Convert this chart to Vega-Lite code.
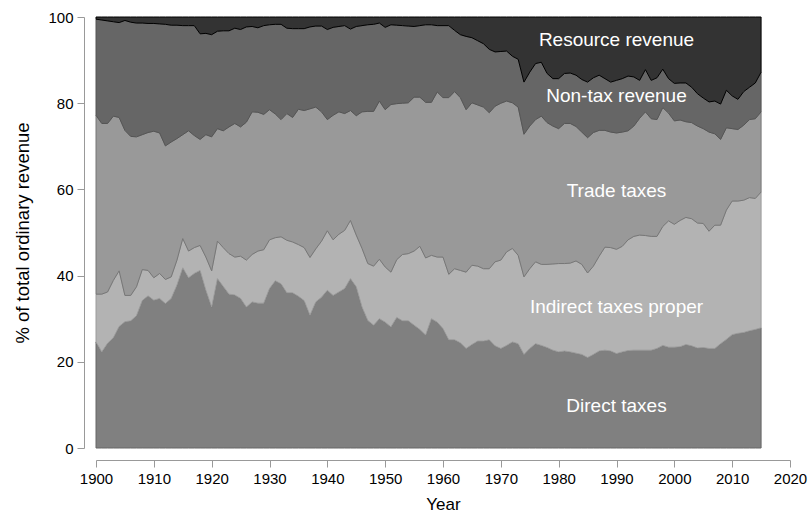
{
  "$schema": "https://vega.github.io/schema/vega-lite/v6.json",
  "width": 694,
  "height": 431,
  "autosize": {"type": "none"},
  "padding": {"left": 96, "top": 17, "right": 18, "bottom": 64},
  "config": {
    "font": "Liberation Sans",
    "view": {"stroke": null},
    "axis": {
      "domainColor": "#999999",
      "tickColor": "#999999",
      "labelColor": "#000000",
      "titleColor": "#000000",
      "labelFontSize": 15,
      "titleFontSize": 17,
      "titleFontWeight": "normal",
      "grid": false,
      "tickSize": 7,
      "offset": 12,
      "labelPadding": 4,
      "labelFlush": false,
      "labelOverlap": false
    }
  },
  "datasets": {
    "revenue": [
      {"year":1900,"direct":24.6,"indirect":11.1,"trade":41.5,"nontax":22.3,"resource":0.5},
      {"year":1901,"direct":22.3,"indirect":13.4,"trade":39.6,"nontax":24.0,"resource":0.7},
      {"year":1902,"direct":24.3,"indirect":11.9,"trade":39.1,"nontax":23.8,"resource":0.9},
      {"year":1903,"direct":25.6,"indirect":13.3,"trade":38.1,"nontax":21.9,"resource":1.1},
      {"year":1904,"direct":28.2,"indirect":12.9,"trade":35.6,"nontax":22.0,"resource":1.3},
      {"year":1905,"direct":29.3,"indirect":6.1,"trade":38.3,"nontax":25.5,"resource":0.8},
      {"year":1906,"direct":29.5,"indirect":5.9,"trade":36.9,"nontax":26.5,"resource":1.2},
      {"year":1907,"direct":30.7,"indirect":6.7,"trade":34.8,"nontax":26.4,"resource":1.4},
      {"year":1908,"direct":34.2,"indirect":7.2,"trade":31.3,"nontax":25.9,"resource":1.4},
      {"year":1909,"direct":35.3,"indirect":5.9,"trade":32.0,"nontax":25.3,"resource":1.5},
      {"year":1910,"direct":34.3,"indirect":5.2,"trade":34.0,"nontax":25.0,"resource":1.5},
      {"year":1911,"direct":34.7,"indirect":5.8,"trade":32.6,"nontax":25.3,"resource":1.6},
      {"year":1912,"direct":33.5,"indirect":5.6,"trade":31.0,"nontax":28.2,"resource":1.7},
      {"year":1913,"direct":34.7,"indirect":5.0,"trade":31.3,"nontax":27.1,"resource":1.9},
      {"year":1914,"direct":37.8,"indirect":5.8,"trade":28.2,"nontax":26.3,"resource":1.9},
      {"year":1915,"direct":41.8,"indirect":6.8,"trade":24.1,"nontax":25.3,"resource":2.0},
      {"year":1916,"direct":39.5,"indirect":6.2,"trade":27.9,"nontax":24.4,"resource":2.0},
      {"year":1917,"direct":40.5,"indirect":6.0,"trade":26.0,"nontax":25.5,"resource":2.0},
      {"year":1918,"direct":41.2,"indirect":5.8,"trade":24.6,"nontax":24.5,"resource":3.9},
      {"year":1919,"direct":36.6,"indirect":7.7,"trade":28.4,"nontax":23.5,"resource":3.8},
      {"year":1920,"direct":32.7,"indirect":8.4,"trade":31.1,"nontax":23.7,"resource":4.1},
      {"year":1921,"direct":39.3,"indirect":8.7,"trade":26.1,"nontax":22.6,"resource":3.3},
      {"year":1922,"direct":37.5,"indirect":9.0,"trade":27.1,"nontax":23.2,"resource":3.2},
      {"year":1923,"direct":35.7,"indirect":9.4,"trade":29.4,"nontax":22.3,"resource":3.2},
      {"year":1924,"direct":35.5,"indirect":8.8,"trade":31.0,"nontax":22.1,"resource":2.6},
      {"year":1925,"direct":34.7,"indirect":9.8,"trade":30.0,"nontax":22.6,"resource":2.9},
      {"year":1926,"direct":32.7,"indirect":10.9,"trade":32.0,"nontax":22.1,"resource":2.3},
      {"year":1927,"direct":33.9,"indirect":11.0,"trade":33.1,"nontax":19.8,"resource":2.2},
      {"year":1928,"direct":33.6,"indirect":12.1,"trade":32.2,"nontax":19.6,"resource":2.5},
      {"year":1929,"direct":33.6,"indirect":12.4,"trade":31.4,"nontax":20.6,"resource":2.0},
      {"year":1930,"direct":37.0,"indirect":11.3,"trade":30.2,"nontax":19.7,"resource":1.8},
      {"year":1931,"direct":38.8,"indirect":10.0,"trade":28.7,"nontax":20.8,"resource":1.7},
      {"year":1932,"direct":38.1,"indirect":10.9,"trade":27.2,"nontax":22.1,"resource":1.7},
      {"year":1933,"direct":36.0,"indirect":12.2,"trade":29.4,"nontax":19.8,"resource":2.6},
      {"year":1934,"direct":36.0,"indirect":11.8,"trade":28.9,"nontax":20.6,"resource":2.7},
      {"year":1935,"direct":35.2,"indirect":12.0,"trade":31.4,"nontax":18.7,"resource":2.7},
      {"year":1936,"direct":34.2,"indirect":12.3,"trade":31.8,"nontax":19.0,"resource":2.7},
      {"year":1937,"direct":30.8,"indirect":13.4,"trade":34.5,"nontax":19.0,"resource":2.3},
      {"year":1938,"direct":33.9,"indirect":12.3,"trade":32.9,"nontax":18.8,"resource":2.1},
      {"year":1939,"direct":35.0,"indirect":13.0,"trade":30.0,"nontax":19.9,"resource":2.1},
      {"year":1940,"direct":36.6,"indirect":13.8,"trade":25.8,"nontax":20.9,"resource":2.9},
      {"year":1941,"direct":35.4,"indirect":12.9,"trade":28.9,"nontax":20.4,"resource":2.4},
      {"year":1942,"direct":36.2,"indirect":13.4,"trade":28.4,"nontax":19.8,"resource":2.2},
      {"year":1943,"direct":37.0,"indirect":13.5,"trade":27.1,"nontax":20.4,"resource":2.0},
      {"year":1944,"direct":39.3,"indirect":13.5,"trade":25.5,"nontax":18.9,"resource":2.8},
      {"year":1945,"direct":37.4,"indirect":12.0,"trade":27.7,"nontax":20.7,"resource":2.2},
      {"year":1946,"direct":32.7,"indirect":13.6,"trade":31.7,"nontax":20.0,"resource":2.0},
      {"year":1947,"direct":29.6,"indirect":13.2,"trade":35.3,"nontax":20.1,"resource":1.8},
      {"year":1948,"direct":28.5,"indirect":13.7,"trade":35.9,"nontax":20.2,"resource":1.7},
      {"year":1949,"direct":30.0,"indirect":13.8,"trade":36.7,"nontax":18.1,"resource":1.4},
      {"year":1950,"direct":29.2,"indirect":12.8,"trade":36.5,"nontax":19.1,"resource":2.4},
      {"year":1951,"direct":28.1,"indirect":12.7,"trade":38.9,"nontax":18.5,"resource":1.8},
      {"year":1952,"direct":30.3,"indirect":13.4,"trade":36.2,"nontax":18.2,"resource":1.9},
      {"year":1953,"direct":29.5,"indirect":15.4,"trade":35.1,"nontax":18.0,"resource":2.0},
      {"year":1954,"direct":29.5,"indirect":15.6,"trade":35.0,"nontax":17.8,"resource":2.1},
      {"year":1955,"direct":28.5,"indirect":17.2,"trade":35.7,"nontax":16.4,"resource":2.2},
      {"year":1956,"direct":27.5,"indirect":19.3,"trade":34.6,"nontax":16.6,"resource":2.0},
      {"year":1957,"direct":26.2,"indirect":17.9,"trade":36.1,"nontax":18.0,"resource":1.8},
      {"year":1958,"direct":30.0,"indirect":14.7,"trade":35.5,"nontax":18.0,"resource":1.8},
      {"year":1959,"direct":29.2,"indirect":15.1,"trade":38.3,"nontax":15.4,"resource":2.0},
      {"year":1960,"direct":27.7,"indirect":16.6,"trade":37.0,"nontax":16.7,"resource":2.0},
      {"year":1961,"direct":25.1,"indirect":15.2,"trade":41.0,"nontax":16.7,"resource":2.0},
      {"year":1962,"direct":25.1,"indirect":16.5,"trade":41.1,"nontax":14.2,"resource":3.1},
      {"year":1963,"direct":24.4,"indirect":16.8,"trade":40.1,"nontax":14.6,"resource":4.1},
      {"year":1964,"direct":23.1,"indirect":17.7,"trade":37.7,"nontax":17.0,"resource":4.5},
      {"year":1965,"direct":24.0,"indirect":18.4,"trade":37.7,"nontax":15.1,"resource":4.8},
      {"year":1966,"direct":24.8,"indirect":17.4,"trade":37.4,"nontax":14.9,"resource":5.5},
      {"year":1967,"direct":24.8,"indirect":16.8,"trade":37.5,"nontax":14.7,"resource":6.2},
      {"year":1968,"direct":25.1,"indirect":16.5,"trade":36.2,"nontax":14.7,"resource":7.5},
      {"year":1969,"direct":23.7,"indirect":19.5,"trade":36.1,"nontax":12.6,"resource":8.1},
      {"year":1970,"direct":23.1,"indirect":20.5,"trade":36.4,"nontax":12.0,"resource":8.0},
      {"year":1971,"direct":23.8,"indirect":21.7,"trade":35.0,"nontax":11.6,"resource":7.9},
      {"year":1972,"direct":24.6,"indirect":21.7,"trade":33.8,"nontax":10.8,"resource":9.1},
      {"year":1973,"direct":24.2,"indirect":20.5,"trade":34.4,"nontax":11.1,"resource":9.8},
      {"year":1974,"direct":21.7,"indirect":18.0,"trade":33.1,"nontax":12.1,"resource":15.1},
      {"year":1975,"direct":23.1,"indirect":18.5,"trade":33.1,"nontax":12.5,"resource":12.8},
      {"year":1976,"direct":24.2,"indirect":19.0,"trade":33.0,"nontax":13.0,"resource":10.8},
      {"year":1977,"direct":23.8,"indirect":18.8,"trade":34.4,"nontax":12.5,"resource":10.5},
      {"year":1978,"direct":23.3,"indirect":19.3,"trade":32.9,"nontax":11.4,"resource":13.1},
      {"year":1979,"direct":22.7,"indirect":20.0,"trade":32.0,"nontax":11.0,"resource":14.3},
      {"year":1980,"direct":22.3,"indirect":20.5,"trade":31.3,"nontax":11.6,"resource":14.3},
      {"year":1981,"direct":22.5,"indirect":20.3,"trade":32.5,"nontax":11.6,"resource":13.1},
      {"year":1982,"direct":22.3,"indirect":20.6,"trade":32.4,"nontax":11.7,"resource":13.0},
      {"year":1983,"direct":22.0,"indirect":21.4,"trade":31.2,"nontax":11.9,"resource":13.5},
      {"year":1984,"direct":21.7,"indirect":20.9,"trade":30.7,"nontax":12.2,"resource":14.5},
      {"year":1985,"direct":21.0,"indirect":19.6,"trade":31.4,"nontax":12.9,"resource":15.1},
      {"year":1986,"direct":21.7,"indirect":20.5,"trade":31.0,"nontax":12.7,"resource":14.1},
      {"year":1987,"direct":22.5,"indirect":22.0,"trade":29.2,"nontax":12.8,"resource":13.5},
      {"year":1988,"direct":22.7,"indirect":23.9,"trade":27.1,"nontax":12.0,"resource":14.3},
      {"year":1989,"direct":22.5,"indirect":24.0,"trade":26.8,"nontax":11.6,"resource":15.1},
      {"year":1990,"direct":21.9,"indirect":24.2,"trade":27.0,"nontax":12.2,"resource":14.7},
      {"year":1991,"direct":22.3,"indirect":24.5,"trade":26.5,"nontax":12.4,"resource":14.3},
      {"year":1992,"direct":22.6,"indirect":25.7,"trade":25.3,"nontax":12.7,"resource":13.7},
      {"year":1993,"direct":22.7,"indirect":26.4,"trade":25.6,"nontax":11.4,"resource":13.9},
      {"year":1994,"direct":22.7,"indirect":26.7,"trade":27.1,"nontax":8.8,"resource":14.7},
      {"year":1995,"direct":22.7,"indirect":26.6,"trade":28.7,"nontax":9.8,"resource":12.2},
      {"year":1996,"direct":22.7,"indirect":26.4,"trade":27.3,"nontax":8.9,"resource":14.7},
      {"year":1997,"direct":23.1,"indirect":26.0,"trade":27.1,"nontax":9.7,"resource":14.1},
      {"year":1998,"direct":23.8,"indirect":27.6,"trade":27.6,"nontax":8.9,"resource":12.1},
      {"year":1999,"direct":23.4,"indirect":29.3,"trade":25.0,"nontax":8.0,"resource":14.3},
      {"year":2000,"direct":23.4,"indirect":28.5,"trade":24.0,"nontax":8.7,"resource":15.4},
      {"year":2001,"direct":23.5,"indirect":29.3,"trade":23.3,"nontax":8.6,"resource":15.3},
      {"year":2002,"direct":24.0,"indirect":29.5,"trade":22.2,"nontax":9.0,"resource":15.3},
      {"year":2003,"direct":23.7,"indirect":29.5,"trade":22.3,"nontax":8.2,"resource":16.3},
      {"year":2004,"direct":23.2,"indirect":29.0,"trade":22.5,"nontax":7.5,"resource":17.8},
      {"year":2005,"direct":23.3,"indirect":28.8,"trade":22.0,"nontax":7.1,"resource":18.8},
      {"year":2006,"direct":23.1,"indirect":27.2,"trade":23.0,"nontax":7.0,"resource":19.7},
      {"year":2007,"direct":23.1,"indirect":28.6,"trade":21.2,"nontax":7.6,"resource":19.5},
      {"year":2008,"direct":24.2,"indirect":27.5,"trade":19.9,"nontax":8.2,"resource":20.2},
      {"year":2009,"direct":25.2,"indirect":30.0,"trade":19.1,"nontax":8.7,"resource":17.0},
      {"year":2010,"direct":26.3,"indirect":31.0,"trade":16.8,"nontax":7.6,"resource":18.3},
      {"year":2011,"direct":26.6,"indirect":30.7,"trade":16.6,"nontax":7.0,"resource":19.1},
      {"year":2012,"direct":26.8,"indirect":30.7,"trade":17.4,"nontax":7.8,"resource":17.3},
      {"year":2013,"direct":27.2,"indirect":30.9,"trade":18.1,"nontax":7.5,"resource":16.3},
      {"year":2014,"direct":27.5,"indirect":30.4,"trade":18.5,"nontax":8.3,"resource":15.3},
      {"year":2015,"direct":27.9,"indirect":31.5,"trade":18.6,"nontax":9.2,"resource":12.8}
    ],
    "series": [
      {"series": "direct", "rank": 1},
      {"series": "indirect", "rank": 2},
      {"series": "trade", "rank": 3},
      {"series": "nontax", "rank": 4},
      {"series": "resource", "rank": 5}
    ],
    "labels": [
      {"label": "Resource revenue", "year": 1990, "share": 93.2},
      {"label": "Non-tax revenue", "year": 1990, "share": 80.3},
      {"label": "Trade taxes", "year": 1990, "share": 58.2},
      {"label": "Indirect taxes proper", "year": 1990, "share": 31.3},
      {"label": "Direct taxes", "year": 1990, "share": 8.35}
    ]
  },
  "layer": [
    {
      "data": {"name": "revenue"},
      "transform": [
        {"fold": ["direct", "indirect", "trade", "nontax", "resource"], "as": ["series", "share"]},
        {"lookup": "series", "from": {"data": {"name": "series"}, "key": "series", "fields": ["rank"]}}
      ],
      "mark": {"type": "area", "strokeWidth": 1},
      "encoding": {
        "x": {
          "field": "year", "type": "quantitative",
          "scale": {"domain": [1900, 2020], "nice": false, "zero": false},
          "axis": {"title": "Year", "values": [1900, 1910, 1920, 1930, 1940, 1950, 1960, 1970, 1980, 1990, 2000, 2010, 2020], "format": "d", "titlePadding": 10}
        },
        "y": {
          "field": "share", "type": "quantitative", "stack": "zero",
          "scale": {"domain": [0, 100], "nice": false},
          "axis": {"title": "% of total ordinary revenue", "values": [0, 20, 40, 60, 80, 100], "titlePadding": 15, "titleFontSize": 18.5}
        },
        "fill": {
          "field": "series", "type": "nominal",
          "scale": {"domain": ["direct", "indirect", "trade", "nontax", "resource"], "range": ["#808080", "#b3b3b3", "#999999", "#666666", "#333333"]},
          "legend": null
        },
        "stroke": {
          "field": "series", "type": "nominal",
          "scale": {"domain": ["direct", "indirect", "trade", "nontax", "resource"], "range": ["#666666", "#9c9c9c", "#777777", "#555555", "#000000"]},
          "legend": null
        },
        "order": {"field": "rank", "type": "quantitative"}
      }
    },
    {
      "data": {"name": "labels"},
      "mark": {"type": "text", "color": "#ffffff", "fontSize": 19, "baseline": "alphabetic", "align": "center"},
      "encoding": {
        "x": {"field": "year", "type": "quantitative"},
        "y": {"field": "share", "type": "quantitative"},
        "text": {"field": "label", "type": "nominal"}
      }
    }
  ]
}
